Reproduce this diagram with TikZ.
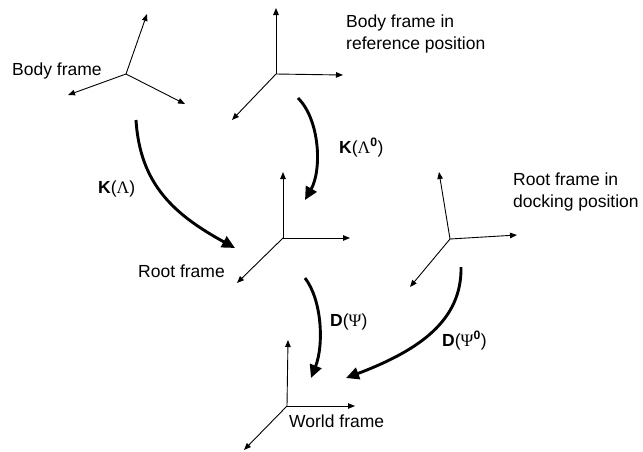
\documentclass[tikz,border=0pt]{standalone}
\usepackage{fontspec}
\setmainfont{Liberation Sans}
\newfontfamily\greekfont{Liberation Serif}
\usetikzlibrary{arrows.meta}

\tikzset{
  axis/.style={draw=black, line width=0.9pt, -{Triangle[length=7pt,width=5.5pt]}},
  map/.style={draw=black, line width=2.9pt, -{Triangle[length=13pt,width=12pt]}},
  lbl/.style={inner sep=0pt, anchor=base west, align=left, font=\fontsize{17.5}{21.5}\selectfont},
}
\newcommand{\Lam}{{\greekfont\char"039B}}
\newcommand{\Psy}{{\greekfont\char"03A8}}

\begin{document}
\begin{tikzpicture}[x=1pt,y=-1pt]
    \useasboundingbox (0,0) rectangle (643,451);
    \begin{scope}
      % frames
      \coordinate (bodyO) at (126,74);  \coordinate (bodyA) at (147,14);
      \coordinate (bodyB) at (68,95);   \coordinate (bodyC) at (185,104);
      \coordinate (refO) at (276,74);   \coordinate (refA) at (276,8);
      \coordinate (refB) at (343,75);   \coordinate (refC) at (232,120);
      \coordinate (rootO) at (283,238); \coordinate (rootA) at (283,172);
      \coordinate (rootB) at (350,238); \coordinate (rootC) at (237,283);
      \coordinate (dockO) at (450,239); \coordinate (dockA) at (439,172);
      \coordinate (dockB) at (517,235); \coordinate (dockC) at (410,287);
      \coordinate (worldO) at (287,406); \coordinate (worldA) at (288,340);
      \coordinate (worldB) at (355,406); \coordinate (worldC) at (244,450);
      \draw[axis] (bodyO) -- (bodyA);  \draw[axis] (bodyO) -- (bodyB);  \draw[axis] (bodyO) -- (bodyC);
      \draw[axis] (refO) -- (refA);    \draw[axis] (refO) -- (refB);    \draw[axis] (refO) -- (refC);
      \draw[axis] (rootO) -- (rootA);  \draw[axis] (rootO) -- (rootB);  \draw[axis] (rootO) -- (rootC);
      \draw[axis] (dockO) -- (dockA);  \draw[axis] (dockO) -- (dockB);  \draw[axis] (dockO) -- (dockC);
      \draw[axis] (worldO) -- (worldA); \draw[axis] (worldO) -- (worldB); \draw[axis] (worldO) -- (worldC);

      % labels
      \node[lbl] at (12,75) (body) {Body frame};
      \node[lbl] at (346,49) (ref) {Body frame in\\reference position};
      \node[lbl] at (138,277) (root) {Root frame};
      \node[lbl] at (513,207) (dock) {Root frame in\\docking position};
      \node[lbl] at (289,427) (world) {World frame};

      % transformations
      \coordinate (k1) at (136,120);  \coordinate (k2) at (235,248);
      \coordinate (kr1) at (298,98);  \coordinate (kr2) at (305,200);
      \coordinate (d1) at (305,278);  \coordinate (d2) at (311,378);
      \coordinate (dr1) at (461,267); \coordinate (dr2) at (346,378);
      \draw[map] (k1) .. controls (140,185) and (175,215) .. (k2);
      \draw[map] (kr1) .. controls (320,120) and (322,170) .. (kr2);
      \draw[map] (d1) .. controls (322,300) and (324,345) .. (d2);
      \draw[map] (dr1) .. controls (462,320) and (420,350) .. (dr2);
      \node[lbl] at (98,193) (K) {\textbf{K}(\Lam)};
      \node[lbl] at (339,153) (K0) {\textbf{K}(\Lam\textsuperscript{\textbf{0}})};
      \node[lbl] at (330,326) (D) {\textbf{D}(\Psy)};
      \node[lbl] at (442,346) (D0) {\textbf{D}(\Psy\textsuperscript{\textbf{0}})};
    \end{scope}
\end{tikzpicture}
\end{document}
